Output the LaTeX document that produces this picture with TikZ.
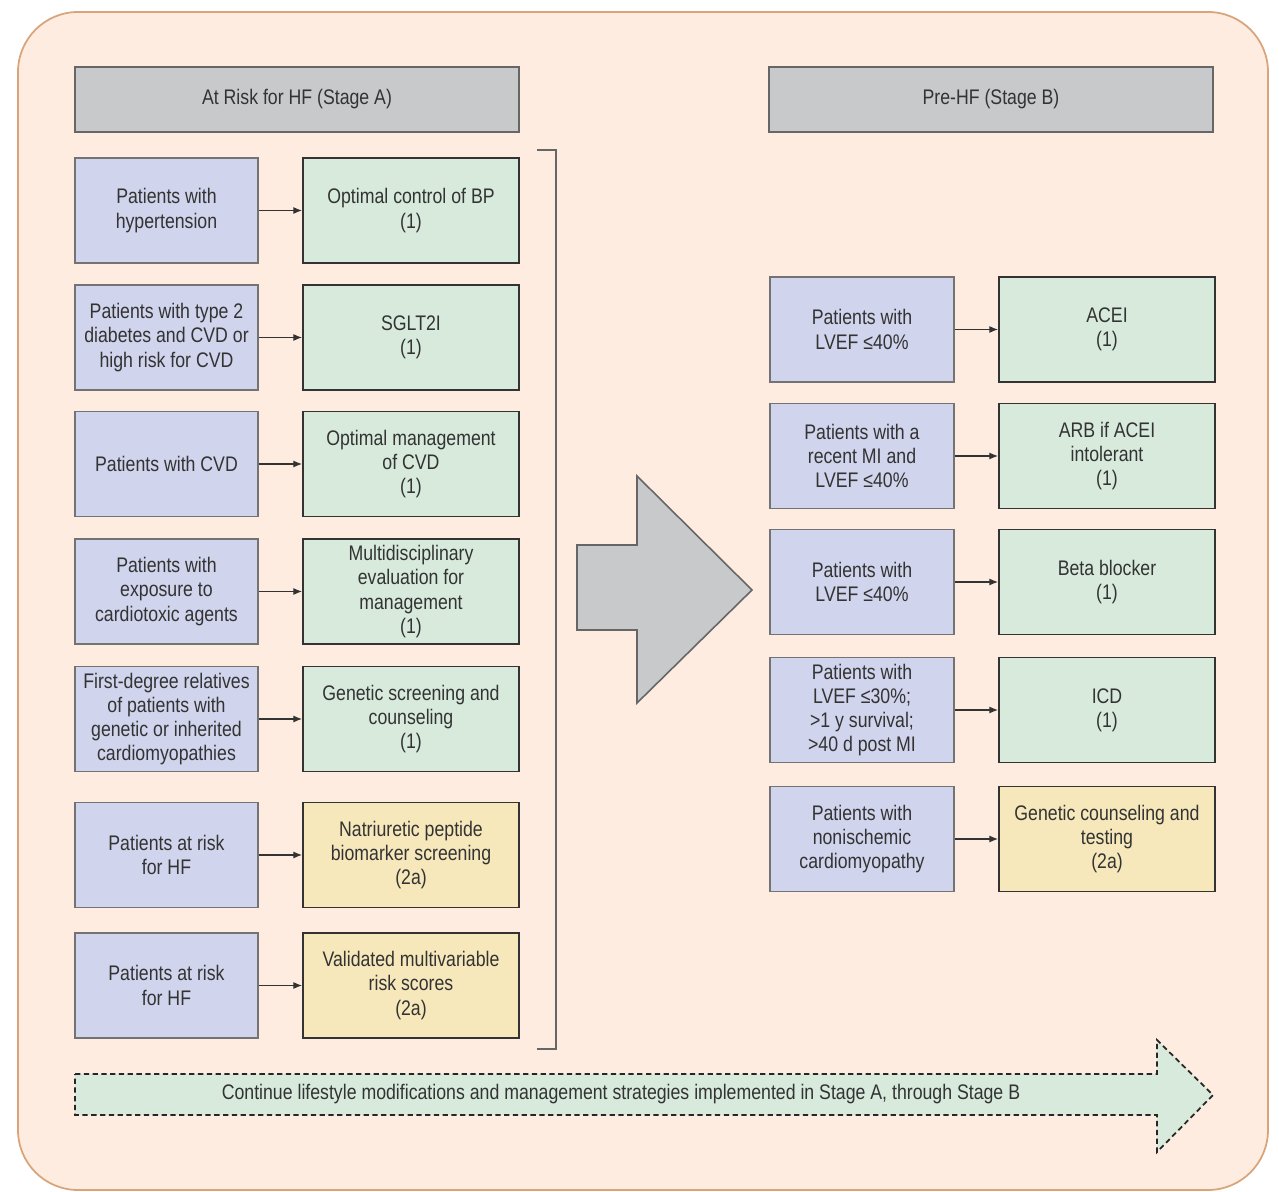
\documentclass[tikz,border=0pt]{standalone}
\usepackage{fontspec}
\setmainfont{Liberation Sans}[FakeStretch=0.84]
\usetikzlibrary{arrows.meta}
\definecolor{bgfill}{HTML}{FDECDF}
\definecolor{bgline}{HTML}{D9A47A}
\definecolor{bluef}{HTML}{D0D4EC}
\definecolor{greenf}{HTML}{D7EADC}
\definecolor{yellowf}{HTML}{F6E8BB}
\definecolor{grayf}{HTML}{C8C9CB}
\definecolor{txt}{HTML}{333333}
\tikzset{
  box/.style={rectangle, draw=black!60, line width=0.9pt, align=center, text=txt,
    font=\fontsize{12}{13.8}\selectfont, inner sep=2pt},
  bluebox/.style={box, fill=bluef, draw=black!55, minimum height=2.1cm},
  greenbox/.style={box, fill=greenf, draw=black!80, line width=1pt, minimum height=2.1cm},
  yellowbox/.style={box, fill=yellowf, draw=black!80, line width=1pt, minimum height=2.1cm},
  hdr/.style={box, fill=grayf, draw=black!60, minimum width=8.88cm, minimum height=1.3cm},
  lw/.style={minimum width=3.66cm},
  rw/.style={minimum width=4.32cm},
  conn/.style={draw=black!80, line width=0.7pt, -{Latex[length=5pt,width=4pt]}},
}
\begin{document}
\begin{tikzpicture}[x=0.02cm,y=-0.02cm]
\useasboundingbox (0,0) rectangle (1279,1192);
\draw[fill=bgfill, draw=bgline, line width=1pt, rounded corners=1.2cm] (18,12) rectangle (1268,1190);

% headers
\node[hdr] (ha) at (297,99.5) {At Risk for HF (Stage A)};
\node[hdr] (hb) at (991,99.5) {Pre-HF (Stage B)};

% left column
\node[bluebox,lw] (a1) at (166.5,210.5) {Patients with\\hypertension};
\node[greenbox,rw] (b1) at (411,210.5) {Optimal control of BP\\(1)};
\node[bluebox,lw] (a2) at (166.5,337.5) {Patients with type 2\\diabetes and CVD or\\high risk for CVD};
\node[greenbox,rw] (b2) at (411,337.5) {SGLT2I\\(1)};
\node[bluebox,lw] (a3) at (166.5,464) {Patients with CVD};
\node[greenbox,rw] (b3) at (411,464) {Optimal management\\of CVD\\(1)};
\node[bluebox,lw] (a4) at (166.5,591.5) {Patients with\\exposure to\\cardiotoxic agents};
\node[greenbox,rw] (b4) at (411,591.5) {Multidisciplinary\\evaluation for\\management\\(1)};
\node[bluebox,lw] (a5) at (166.5,719) {First-degree relatives\\of patients with\\genetic or inherited\\cardiomyopathies};
\node[greenbox,rw] (b5) at (411,719) {Genetic screening and\\counseling\\(1)};
\node[bluebox,lw] (a6) at (166.5,855) {Patients at risk\\for HF};
\node[yellowbox,rw] (b6) at (411,855) {Natriuretic peptide\\biomarker screening\\(2a)};
\node[bluebox,lw] (a7) at (166.5,985.5) {Patients at risk\\for HF};
\node[yellowbox,rw] (b7) at (411,985.5) {Validated multivariable\\risk scores\\(2a)};

\foreach \i in {1,...,7} \draw[conn] (a\i) -- (b\i);

% right column
\node[bluebox,minimum width=3.68cm] (c1) at (862,329.5) {Patients with\\LVEF ≤40\%};
\node[greenbox,rw] (d1) at (1107,329.5) {ACEI\\(1)};
\node[bluebox,minimum width=3.68cm] (c2) at (862,456) {Patients with a\\recent MI and\\LVEF ≤40\%};
\node[greenbox,rw] (d2) at (1107,456) {ARB if ACEI\\intolerant\\(1)};
\node[bluebox,minimum width=3.68cm] (c3) at (862,582) {Patients with\\LVEF ≤40\%};
\node[greenbox,rw] (d3) at (1107,582) {Beta blocker\\(1)};
\node[bluebox,minimum width=3.68cm] (c4) at (862,710) {Patients with\\LVEF ≤30\%;\\>1 y survival;\\>40 d post MI};
\node[greenbox,rw] (d4) at (1107,710) {ICD\\(1)};
\node[bluebox,minimum width=3.68cm] (c5) at (862,839) {Patients with\\nonischemic\\cardiomyopathy};
\node[yellowbox,rw] (d5) at (1107,839) {Genetic counseling and\\testing\\(2a)};

\foreach \i in {1,...,5} \draw[conn] (c\i) -- (d\i);

% bracket
\draw[draw=black!60, line width=1pt] (537,150) -- (556,150) -- (556,1049) -- (537,1049);

% big arrow
\draw[fill=grayf, draw=black!60, line width=0.9pt, line join=miter]
  (577,545) -- (637,545) -- (637,476) -- (752,590) -- (637,703) -- (637,630) -- (577,630) -- cycle;

% bottom dashed arrow
\draw[fill=greenf, draw=black!85, line width=1pt, dash pattern=on 3pt off 2pt]
  (75,1074) -- (1157,1074) -- (1157,1040) -- (1213,1095) -- (1157,1152) -- (1157,1115) -- (75,1115) -- cycle;
\node[text=txt, font=\fontsize{12}{13.8}\selectfont] (cont) at (621,1094.5)
  {Continue lifestyle modifications and management strategies implemented in Stage A, through Stage B};
\end{tikzpicture}
\end{document}
